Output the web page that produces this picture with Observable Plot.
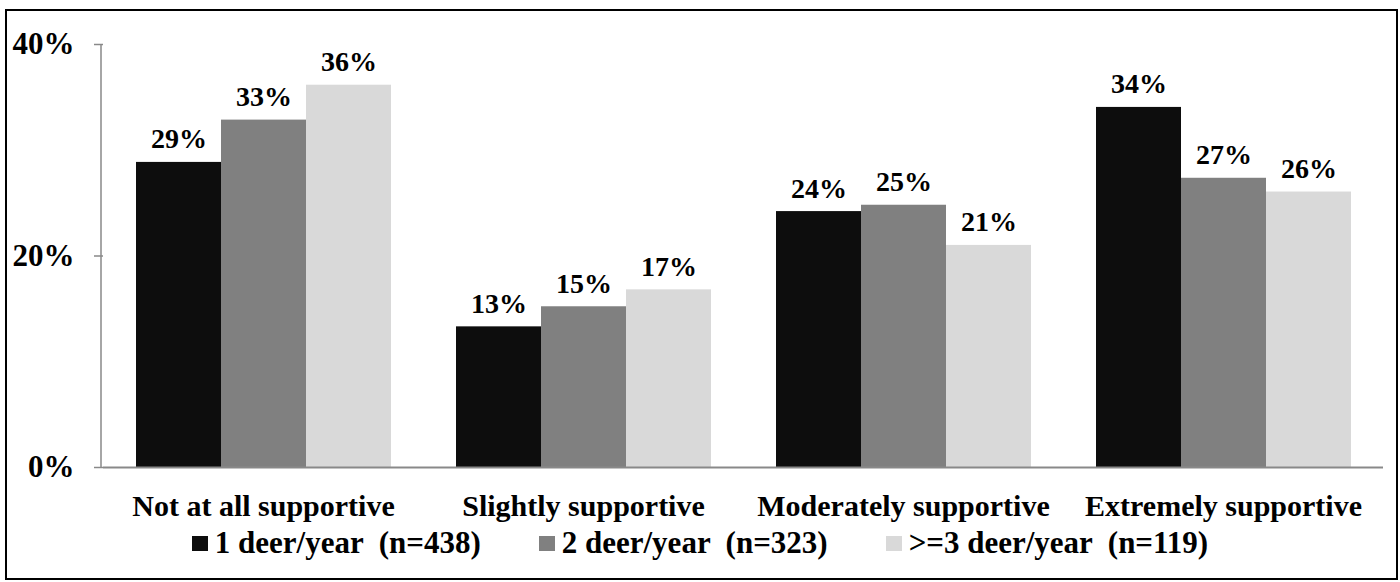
<!DOCTYPE html>
<html><head><meta charset="utf-8">
<script src="https://cdn.jsdelivr.net/npm/d3@7"></script>
<script src="https://cdn.jsdelivr.net/npm/@observablehq/plot@0.6"></script>
<style>
body{margin:0;background:#fff;font-family:"Liberation Serif","DejaVu Serif","Noto Serif","Times New Roman",Times,serif;font-weight:bold;}
#wrap{position:relative;width:1400px;height:582px;overflow:hidden;background:#fff;}
#chart{position:absolute;left:0;top:0;}
#frame{position:absolute;left:5px;top:9px;width:1389px;height:567px;border:2px solid #000;pointer-events:none;}
#legend{position:absolute;left:0;top:525px;width:1400px;display:flex;justify-content:center;font-size:31px;line-height:36px;white-space:pre;color:#000;}
.item{display:flex;align-items:center;margin:0 29px;}
.sw{width:16px;height:15px;margin-right:7px;}
</style></head>
<body><div id="wrap"><div id="chart"></div><div id="legend"></div><div id="frame"></div></div>
<script>
const categories = ["Not at all supportive", "Slightly supportive", "Moderately supportive", "Extremely supportive"];
const seriesNames = ["1 deer/year  (n=438)", "2 deer/year  (n=323)", ">=3 deer/year  (n=119)"];
const seriesColors = ["#0d0d0d", "#808080", "#d9d9d9"];
const oneDeer = [28.85, 13.3, 24.2, 34.05];
const twoDeer = [32.85, 15.2, 24.8, 27.35];
const threePlusDeer = [36.15, 16.8, 21.0, 26.05];
const yTicks = [0, 20, 40];

const seriesValues = [oneDeer, twoDeer, threePlusDeer];
const data = [];
categories.forEach((c, i) => {
  seriesNames.forEach((s, j) => data.push({category: c, series: s, value: seriesValues[j][i]}));
});

const font = '"Liberation Serif","DejaVu Serif","Noto Serif","Times New Roman",Times,serif';
const plot = Plot.plot({
  width: 1400, height: 540,
  marginTop: 44, marginBottom: 73, marginLeft: 101, marginRight: 16,
  style: {fontFamily: font, fontWeight: "bold", fontSize: "30px", background: "transparent", color: "#000", overflow: "visible"},
  fx: {domain: categories, padding: 0, label: null},
  x: {domain: seriesNames, paddingInner: 0, paddingOuter: 0.375, axis: null},
  y: {domain: [0, 40], label: null},
  color: {domain: seriesNames, range: seriesColors},
  marks: [
    Plot.barY(data, {fx: "category", x: "series", y: "value", fill: "series"}),
    Plot.ruleY([0], {stroke: "#898989", strokeWidth: 2}),
    Plot.text(data, {fx: "category", x: "series", y: "value", text: d => Math.round(d.value) + "%", lineAnchor: "bottom", dy: -14, fontSize: 28, fontWeight: "bold", fill: "#000"}),
    Plot.axisY({ticks: yTicks, tickFormat: d => d + "%", tickSize: 9, tickPadding: 20, stroke: "#898989", strokeWidth: 1.5, fill: "#000", label: null, fontSize: 31}),
    Plot.axisFx({anchor: "bottom", tickSize: 0, tickPadding: 27, label: null, fontSize: 30, fill: "#000"})
  ]
});
document.getElementById("chart").appendChild(plot);

// vertical y-axis line, positioned from the plot's own scales
const yScale = plot.scale("y");
const fxRange = plot.scale("fx").range;
d3.select(plot).append("line")
  .attr("x1", fxRange[0]).attr("x2", fxRange[0])
  .attr("y1", yScale.apply(0)).attr("y2", yScale.apply(40))
  .attr("stroke", "#898989").attr("stroke-width", 1.5);

const legend = d3.select("#legend");
seriesNames.forEach((s, i) => {
  const it = legend.append("div").attr("class", "item");
  it.append("div").attr("class", "sw").style("background", seriesColors[i]);
  it.append("span").text(s);
});
</script>
</body></html>
